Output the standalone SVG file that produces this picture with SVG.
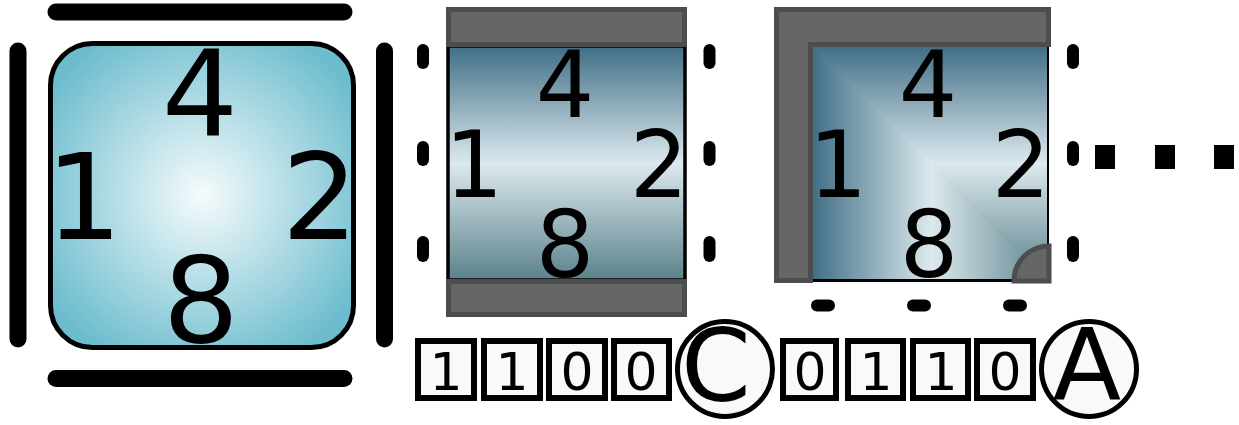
<svg xmlns="http://www.w3.org/2000/svg" width="1239" height="425" viewBox="0 0 1239 425">
<defs>
<radialGradient id="rg" cx="202" cy="195" r="185" gradientUnits="userSpaceOnUse">
<stop offset="0" stop-color="#f6fbfc"/>
<stop offset="1" stop-color="#6bbccd"/>
</radialGradient>
<linearGradient id="vg" x1="0" y1="47" x2="0" y2="280" gradientUnits="userSpaceOnUse">
<stop offset="0" stop-color="#426f86"/>
<stop offset="0.5" stop-color="#dce9ee"/>
<stop offset="1" stop-color="#5b828b"/>
</linearGradient>
<linearGradient id="hg" x1="813" y1="0" x2="1050" y2="0" gradientUnits="userSpaceOnUse">
<stop offset="0" stop-color="#426f86"/>
<stop offset="0.5" stop-color="#dce9ee"/>
<stop offset="1" stop-color="#5b828b"/>
</linearGradient>
</defs>
<style>
.bar{stroke:#000;stroke-width:17;stroke-linecap:round;fill:none}
.dash{stroke:#000;stroke-width:12;stroke-linecap:round;fill:none}
.gray{fill:#666666;stroke:#4d4d4d;stroke-width:5}
.big{font-family:"DejaVu Sans","Liberation Sans",sans-serif;font-size:120px;text-anchor:middle;fill:#000}
.mid{font-family:"DejaVu Sans","Liberation Sans",sans-serif;font-size:92px;text-anchor:middle;fill:#000}
.box{fill:#f9f9f9;stroke:#000;stroke-width:6}
.bit{font-family:"DejaVu Sans","Liberation Sans",sans-serif;font-size:52px;text-anchor:middle;fill:#000}
.circ{fill:#f9f9f9;stroke:#000;stroke-width:5}
.letter{font-family:"DejaVu Sans","Liberation Sans",sans-serif;font-size:100px;text-anchor:middle;fill:#000}
</style>

<g id="tile1">
<rect x="50.5" y="43.5" width="303" height="304" rx="42" ry="42" fill="url(#rg)" stroke="#000" stroke-width="5"/>
<text class="big" x="200" y="136">4</text>
<text class="big" x="84" y="239">1</text>
<text class="big" x="320" y="239">2</text>
<text class="big" x="201" y="342">8</text>
</g>
<g id="tile1-bars">
<line class="bar" x1="56" y1="12" x2="344" y2="12"/>
<line class="bar" x1="56" y1="378.5" x2="344" y2="378.5"/>
<line class="bar" x1="18" y1="51" x2="18" y2="339"/>
<line class="bar" x1="384.5" y1="51" x2="384.5" y2="339"/>
</g>

<g id="tile2">
<rect x="448" y="46" width="237" height="234" fill="url(#vg)" stroke="#000" stroke-width="3.5"/>
<rect class="gray" x="448.5" y="9.5" width="236" height="35"/>
<rect class="gray" x="448.5" y="281.5" width="236" height="33"/>
<text class="mid" x="565" y="117">4</text>
<text class="mid" x="474" y="197">1</text>
<text class="mid" x="659" y="197">2</text>
<text class="mid" x="565" y="277">8</text>
</g>
<g id="tile2-dashes">
<line class="dash" x1="423" y1="50" x2="423" y2="63"/>
<line class="dash" x1="423" y1="147" x2="423" y2="160"/>
<line class="dash" x1="423" y1="242" x2="423" y2="256"/>
<line class="dash" x1="709.5" y1="50" x2="709.5" y2="63"/>
<line class="dash" x1="709.5" y1="147" x2="709.5" y2="160"/>
<line class="dash" x1="709.5" y1="242" x2="709.5" y2="256"/>
</g>

<g id="tile3">
<rect x="812" y="46" width="237" height="236" fill="#000"/>
<rect x="813" y="47" width="234" height="232" fill="url(#vg)"/>
<polygon points="813,47 1047,279 813,279" fill="url(#hg)"/>
<path class="gray" d="M776.5,9.5 H1048.5 V44.5 H810.5 V280.5 H776.5 Z"/>
<path class="gray" d="M1014,281 A35,35 0 0 1 1049,246 V281 Z"/>
<text class="mid" x="928" y="117">4</text>
<text class="mid" x="838" y="197">1</text>
<text class="mid" x="1021" y="197">2</text>
<text class="mid" x="929" y="277">8</text>
</g>
<g id="tile3-dashes">
<line class="dash" x1="1073" y1="50" x2="1073" y2="63"/>
<line class="dash" x1="1073" y1="147" x2="1073" y2="160"/>
<line class="dash" x1="1073" y1="242" x2="1073" y2="256"/>
<line class="dash" x1="817" y1="305.5" x2="829" y2="305.5" stroke-width="13"/>
<line class="dash" x1="913" y1="305.5" x2="925" y2="305.5" stroke-width="13"/>
<line class="dash" x1="1009" y1="305.5" x2="1021" y2="305.5" stroke-width="13"/>
<rect x="1095" y="145" width="20" height="24" fill="#000"/>
<rect x="1155" y="145" width="20" height="24" fill="#000"/>
<rect x="1214" y="145" width="20" height="24" fill="#000"/>
</g>

<g id="code-c">
<rect class="box" x="418" y="341" width="56" height="57"/>
<text class="bit" x="446" y="390">1</text>
<rect class="box" x="484" y="341" width="56" height="57"/>
<text class="bit" x="512" y="390">1</text>
<rect class="box" x="549" y="341" width="56" height="57"/>
<text class="bit" x="577" y="390">0</text>
<rect class="box" x="614" y="341" width="55" height="57"/>
<text class="bit" x="641" y="390">0</text>
<circle class="circ" cx="725" cy="369" r="47.5"/>
<text class="letter" x="716" y="401">C</text>
</g>

<g id="code-a">
<rect class="box" x="783" y="341" width="53" height="57"/>
<text class="bit" x="810" y="390">0</text>
<rect class="box" x="848" y="341" width="55" height="57"/>
<text class="bit" x="876" y="390">1</text>
<rect class="box" x="913" y="341" width="55" height="57"/>
<text class="bit" x="941" y="390">1</text>
<rect class="box" x="977" y="341" width="56" height="57"/>
<text class="bit" x="1005" y="390">0</text>
<circle class="circ" cx="1089" cy="369" r="47.5"/>
<text class="letter" x="1087" y="400">A</text>
</g>
</svg>
